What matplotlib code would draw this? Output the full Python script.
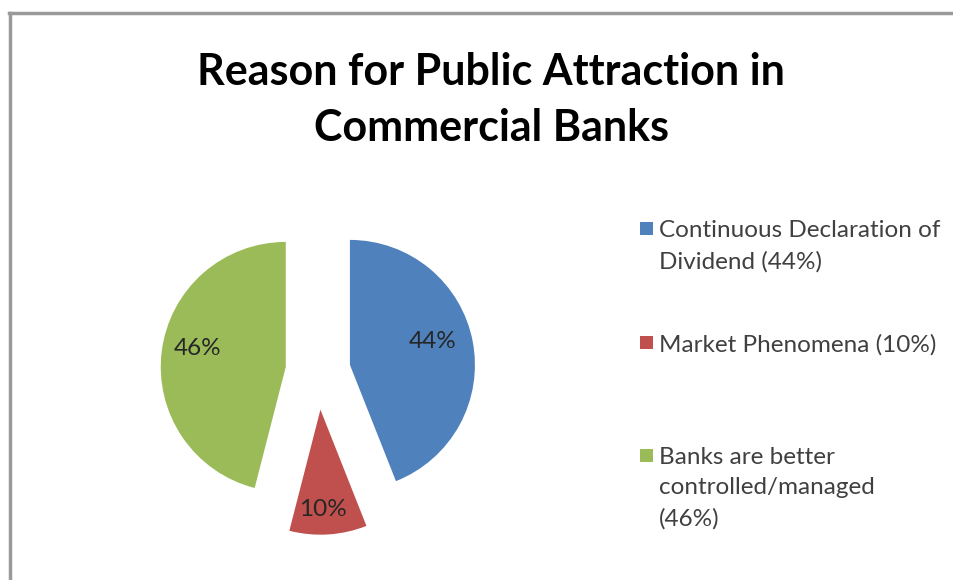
import matplotlib
matplotlib.use("Agg")
import matplotlib.pyplot as plt
from matplotlib.lines import Line2D
from matplotlib.patches import Rectangle

plt.rcParams['font.family'] = ['Lato', 'DejaVu Sans']

# Survey data
categories = ["Continuous Declaration of\nDividend (44%)",
              "Market Phenomena (10%)",
              "Banks are better\ncontrolled/managed\n(46%)"]
shares = [44, 10, 46]
colors = ["#4F81BD", "#C0504D", "#9BBB59"]
explode_frac = [0.26, 0.31, 0.26]

W, H = 954, 580
R = 125
fig = plt.figure(figsize=(W / 100, H / 100), dpi=100)
ax = fig.add_axes([0, 0, 1, 1])

wedges, texts, autotexts = ax.pie(
    shares, colors=colors, explode=[e * R for e in explode_frac],
    startangle=90, counterclock=False,
    center=(318, H - 371), radius=R, autopct='%d%%', pctdistance=0.70,
    textprops=dict(fontsize=17.5, color="#262626"),
    wedgeprops=dict(linewidth=0))
# nudge percentage labels to their best-fit spots inside each slice
for t, (dx, dy) in zip(autotexts, [(-3, 7), (-3, -12), (-1, 7)]):
    x, y = t.get_position()
    t.set_position((x + dx, y + dy))
ax.set_xlim(0, W)
ax.set_ylim(0, H)
ax.set_aspect('equal')
ax.axis('off')

# Chart frame (left and top edges visible)
fig.add_artist(Line2D([10.5 / W, 10.5 / W], [0, 1 - 13 / H], transform=fig.transFigure,
                      color="#9a9a9a", lw=2.5))
fig.add_artist(Line2D([9 / W, 1], [1 - 13 / H, 1 - 13 / H], transform=fig.transFigure,
                      color="#9a9a9a", lw=2.5))

fig.text(491 / W, 1 - 100 / H, "Reason for Public Attraction in\nCommercial Banks",
         ha='center', va='center', fontsize=31, fontweight='bold', color="#000000",
         linespacing=1.5)

# Legend
legend_top = [220, 334, 447]
for cat, col, y in zip(categories, colors, legend_top):
    fig.add_artist(Rectangle((640 / W, 1 - (y + 14.5) / H), 13 / W, 13 / H,
                             transform=fig.transFigure, color=col, lw=0))
    fig.text(659 / W, 1 - y / H, cat, ha='left', va='top', fontsize=17.5,
             color="#404040", linespacing=1.55)

fig.savefig("out.png", dpi=100, facecolor="white")
